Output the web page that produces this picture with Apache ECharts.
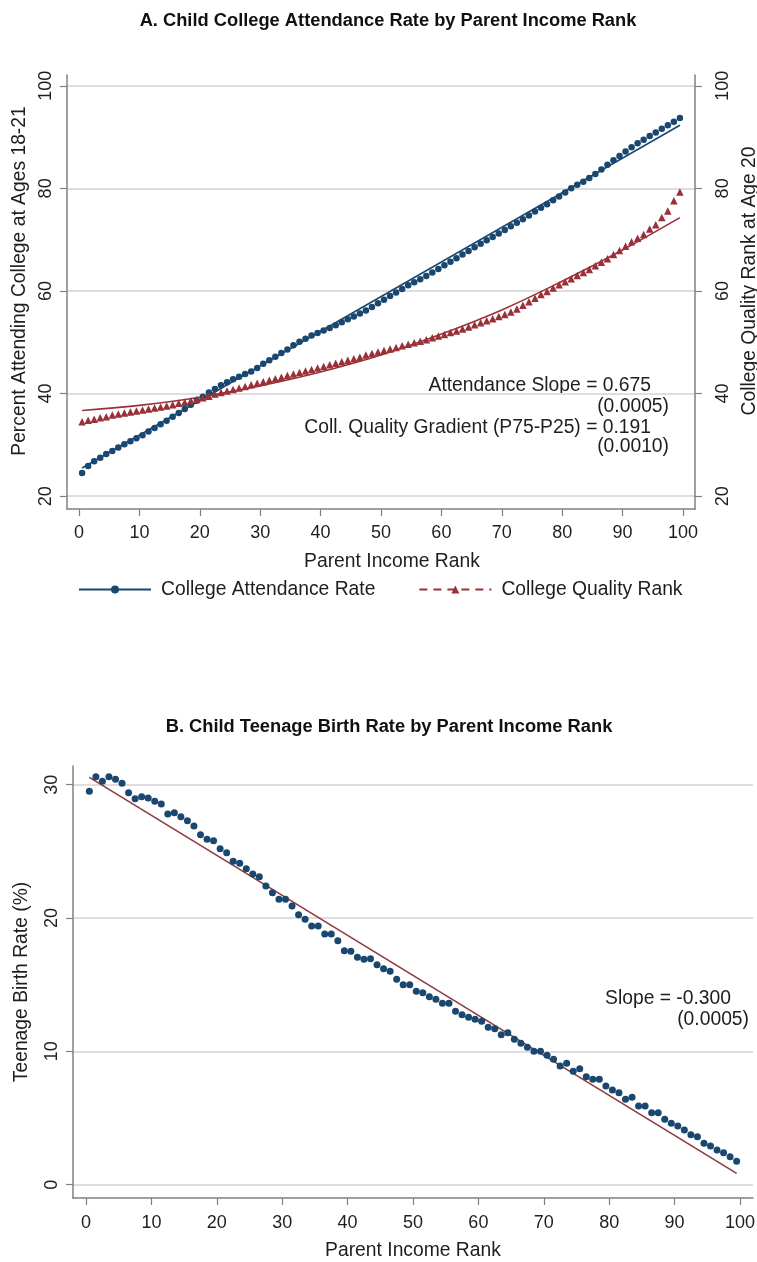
<!DOCTYPE html>
<html><head><meta charset="utf-8">
<script src="https://cdn.jsdelivr.net/npm/echarts@6/dist/echarts.min.js"></script>
<style>html,body{margin:0;padding:0;background:#fff}#c{width:757px;height:1262px}</style>
</head><body><div id="c"></div>
<script>
// ---------- DATA ----------
const ranks = [0.5,1.5,2.5,3.5,4.5,5.5,6.5,7.5,8.5,9.5,10.5,11.5,12.5,13.5,14.5,15.5,16.5,17.5,18.5,19.5,
  20.5,21.5,22.5,23.5,24.5,25.5,26.5,27.5,28.5,29.5,30.5,31.5,32.5,33.5,34.5,35.5,36.5,37.5,38.5,39.5,
  40.5,41.5,42.5,43.5,44.5,45.5,46.5,47.5,48.5,49.5,50.5,51.5,52.5,53.5,54.5,55.5,56.5,57.5,58.5,59.5,
  60.5,61.5,62.5,63.5,64.5,65.5,66.5,67.5,68.5,69.5,70.5,71.5,72.5,73.5,74.5,75.5,76.5,77.5,78.5,79.5,
  80.5,81.5,82.5,83.5,84.5,85.5,86.5,87.5,88.5,89.5,90.5,91.5,92.5,93.5,94.5,95.5,96.5,97.5,98.5,99.5];

const attendance = [24.5,25.9,26.8,27.5,28.2,28.8,29.5,30.1,30.7,31.3,31.9,32.6,33.3,34.0,34.7,35.5,36.2,37.0,37.8,38.6,
  39.4,40.2,40.9,41.6,42.2,42.8,43.3,43.8,44.3,45.0,45.8,46.5,47.2,47.9,48.6,49.4,50.1,50.7,51.3,51.8,
  52.3,52.8,53.3,53.9,54.5,55.0,55.6,56.2,56.9,57.6,58.3,59.0,59.7,60.4,61.1,61.7,62.3,62.9,63.6,64.3,
  65.0,65.7,66.4,67.1,67.8,68.5,69.2,69.9,70.5,71.2,71.9,72.6,73.3,74.0,74.7,75.5,76.2,76.9,77.7,78.4,
  79.2,80.0,80.7,81.3,82.0,82.8,83.7,84.6,85.5,86.3,87.2,88.0,88.8,89.5,90.2,90.9,91.6,92.3,93.0,93.7];

const quality = [34.5,34.8,35.0,35.3,35.5,35.8,36.0,36.2,36.4,36.6,36.8,37.0,37.2,37.4,37.6,37.8,38.1,38.3,38.6,38.9,
  39.2,39.5,39.9,40.2,40.5,40.8,41.1,41.4,41.7,42.0,42.3,42.6,42.9,43.2,43.5,43.8,44.1,44.4,44.7,45.0,
  45.3,45.6,45.9,46.2,46.5,46.8,47.1,47.5,47.8,48.1,48.4,48.7,49.0,49.3,49.6,49.9,50.2,50.5,50.9,51.2,
  51.5,51.9,52.2,52.6,53.0,53.4,53.8,54.2,54.6,55.0,55.4,55.9,56.5,57.2,57.9,58.6,59.3,59.9,60.6,61.2,
  61.8,62.4,63.0,63.6,64.2,64.9,65.6,66.3,67.1,67.9,68.7,69.6,70.3,71.0,72.1,72.9,74.3,75.6,77.6,79.3];

const attendFitX = [0.5, 99.5];
const attendFitY = [25.5, 92.3];
const qualityFitX = [0.5, 10, 20, 30, 40, 50, 60, 70, 80, 90, 99.5];
const qualityFitY = [36.7, 37.7, 39.3, 41.5, 44.2, 47.5, 51.6, 56.3, 61.9, 68.0, 74.3];

const teenBirth = [29.5,30.6,30.25,30.6,30.4,30.1,29.4,28.95,29.1,29.0,28.75,28.55,27.8,27.9,27.6,27.3,26.9,26.25,25.9,25.8,
  25.2,24.9,24.25,24.1,23.7,23.3,23.1,22.4,21.9,21.4,21.4,20.9,20.25,19.9,19.4,19.4,18.8,18.8,18.3,17.55,
  17.5,17.05,16.9,16.95,16.5,16.2,16.0,15.4,15.0,15.0,14.5,14.4,14.1,13.9,13.6,13.6,13.0,12.75,12.55,12.4,
  12.25,11.8,11.7,11.25,11.4,10.9,10.6,10.3,10.0,10.0,9.7,9.4,8.9,9.1,8.5,8.7,8.1,7.9,7.9,7.4,
  7.1,6.9,6.4,6.55,5.9,5.9,5.4,5.4,4.9,4.6,4.4,4.1,3.75,3.6,3.1,2.9,2.6,2.4,2.1,1.75];
const teenFitX = [0.5, 99.5];
const teenFitY = [30.55, 0.85];

const xTicks = [0,10,20,30,40,50,60,70,80,90,100];
const yTicksA = [20,40,60,80,100];
const yTicksB = [0,10,20,30];

const titleA = 'A. Child College Attendance Rate by Parent Income Rank';
const titleB = 'B. Child Teenage Birth Rate by Parent Income Rank';
const xName = 'Parent Income Rank';
const yNameA = 'Percent Attending College at Ages 18-21';
const yNameA2 = 'College Quality Rank at Age 20';
const yNameB = 'Teenage Birth Rate (%)';
const nameAtt = 'College Attendance Rate';
const nameQual = 'College Quality Rank';
const annotA = ['Attendance Slope = 0.675', '(0.0005)', 'Coll. Quality Gradient (P75-P25) = 0.191', '(0.0010)'];
const annotB = ['Slope = -0.300', '(0.0005)'];

// ---------- STYLE ----------
const FONT = '"Liberation Sans", Arial, Helvetica, sans-serif';
const TXT = '#1e1e1e';
const NAVY = '#1a476f';
const MAROON = '#9a3139';
const AXC = '#808080';
const GRIDC = '#dedede';
const ANN = '19.3px ' + FONT;

const pairs = (xs, ys) => xs.map((x, i) => [x, ys[i]]);

function xAxisCfg(gridIndex, ticks, margin, gap, namePad) {
  return {
    type: 'value', gridIndex, min: -2, max: 102,
    name: xName, nameLocation: 'middle', nameGap: gap,
    nameTextStyle: {fontFamily: FONT, fontSize: 19.3, color: TXT, padding: namePad},
    axisLine: {show: true, onZero: false, lineStyle: {color: AXC, width: 1.5}},
    axisTick: {show: true, length: 7, customValues: ticks, lineStyle: {color: AXC, width: 1.2}},
    axisLabel: {customValues: ticks, margin: margin, fontFamily: FONT, fontSize: 18, color: TXT},
    splitLine: {show: false}
  };
}
function yAxisCfg(gridIndex, ticks, min, max, name, gap, pos, margin, grid, namePad) {
  return {
    type: 'value', gridIndex, min, max, position: pos,
    name, nameLocation: 'middle', nameGap: gap, nameRotate: 90,
    nameTextStyle: {fontFamily: FONT, fontSize: 19.3, color: TXT, padding: namePad},
    axisLine: {show: true, onZero: false, lineStyle: {color: AXC, width: 1.5}},
    axisTick: {show: true, length: 7, customValues: ticks, lineStyle: {color: AXC, width: 1.2}},
    axisLabel: {customValues: ticks, rotate: 90, margin: margin, fontFamily: FONT, fontSize: 18, color: TXT},
    splitLine: {show: grid, lineStyle: {color: GRIDC, width: 2}}
  };
}

const chart = echarts.init(document.getElementById('c'), null, {renderer: 'canvas'});

const option = {
  animation: false,
  backgroundColor: '#fff',
  title: [
    {text: titleA, left: 383, top: 7, textAlign: 'center',
     textStyle: {fontFamily: FONT, fontSize: 18.3, fontWeight: 'bold', color: '#111'}},
    {text: titleB, left: 384, top: 713, textAlign: 'center',
     textStyle: {fontFamily: FONT, fontSize: 18.3, fontWeight: 'bold', color: '#111'}}
  ],
  grid: [
    {left: 67, top: 75, width: 628, height: 434, containLabel: false, outerBoundsMode: 'none'},
    {left: 73, top: 766, width: 680, height: 432, containLabel: false, outerBoundsMode: 'none'}
  ],
  xAxis: [
    xAxisCfg(0, xTicks, 15, 43, [0, 0, 0, 22]),
    xAxisCfg(1, xTicks, 16, 43, 0)
  ],
  yAxis: [
    yAxisCfg(0, yTicksA, 17.5, 102.1, yNameA, 38, 'left', 12, true, [0, 0, 0, 22]),
    yAxisCfg(0, yTicksA, 17.5, 102.1, yNameA2, 43, 'right', 19, false, [0, 0, 0, 22]),
    yAxisCfg(1, yTicksB, -1, 31.4, yNameB, 42, 'left', 12, true, 0)
  ],
  legend: {
    left: 78, top: 580, padding: 0, itemGap: 43, itemWidth: 72, itemHeight: 10,
    textStyle: {fontFamily: FONT, fontSize: 19.3, color: TXT, padding: [0, 0, 0, 5]},
    data: [
      {name: nameAtt, itemStyle: {color: NAVY},
       lineStyle: {color: NAVY, width: 2, type: 'solid', opacity: 1}},
      {name: nameQual, itemStyle: {color: MAROON},
       lineStyle: {color: MAROON, width: 2, type: [8, 6], opacity: 1}}
    ]
  },
  graphic: [
    {type: 'text', x: 651, y: 386, style: {text: annotA[0], align: 'right', verticalAlign: 'middle', font: ANN, fill: TXT}},
    {type: 'text', x: 669, y: 407, style: {text: annotA[1], align: 'right', verticalAlign: 'middle', font: ANN, fill: TXT}},
    {type: 'text', x: 651, y: 428, style: {text: annotA[2], align: 'right', verticalAlign: 'middle', font: ANN, fill: TXT}},
    {type: 'text', x: 669, y: 447, style: {text: annotA[3], align: 'right', verticalAlign: 'middle', font: ANN, fill: TXT}},
    {type: 'text', x: 731, y: 999, style: {text: annotB[0], align: 'right', verticalAlign: 'middle', font: ANN, fill: TXT}},
    {type: 'text', x: 749, y: 1020, style: {text: annotB[1], align: 'right', verticalAlign: 'middle', font: ANN, fill: TXT}}
  ],
  series: [
    {name: 'Attendance fit', type: 'line', xAxisIndex: 0, yAxisIndex: 0, data: pairs(attendFitX, attendFitY),
     showSymbol: false, lineStyle: {color: NAVY, width: 1.6}, z: 2, silent: true},
    {name: 'Quality fit', type: 'line', xAxisIndex: 0, yAxisIndex: 0, data: pairs(qualityFitX, qualityFitY),
     smooth: 0.4, showSymbol: false, lineStyle: {color: MAROON, width: 1.6}, z: 2, silent: true},
    {name: nameAtt, type: 'line', xAxisIndex: 0, yAxisIndex: 0, data: pairs(ranks, attendance),
     symbol: 'circle', symbolSize: 6.5, showSymbol: true, showAllSymbol: true,
     itemStyle: {color: NAVY}, lineStyle: {width: 0, opacity: 0}, z: 3},
    {name: nameQual, type: 'line', xAxisIndex: 0, yAxisIndex: 0, data: pairs(ranks, quality),
     symbol: 'triangle', symbolSize: 7.5, showSymbol: true, showAllSymbol: true,
     itemStyle: {color: MAROON}, lineStyle: {width: 0, opacity: 0}, z: 3},
    {name: 'Teen fit', type: 'line', xAxisIndex: 1, yAxisIndex: 2, data: pairs(teenFitX, teenFitY),
     showSymbol: false, lineStyle: {color: '#8e3a40', width: 1.6}, z: 2, silent: true},
    {name: 'Teen birth', type: 'scatter', xAxisIndex: 1, yAxisIndex: 2, data: pairs(ranks, teenBirth),
     symbol: 'circle', symbolSize: 7, itemStyle: {color: NAVY, opacity: 1}, z: 3}
  ]
};
chart.setOption(option);
</script>
</body></html>
